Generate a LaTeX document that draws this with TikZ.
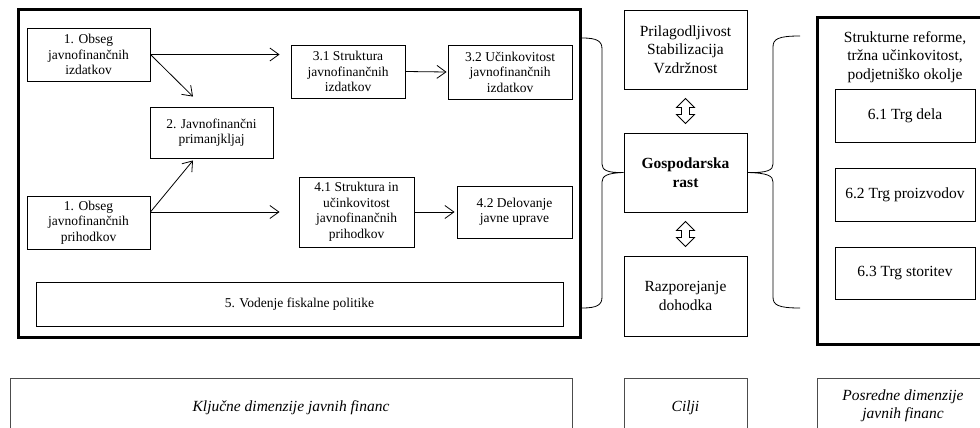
\documentclass[tikz,border=0pt]{standalone}
\usepackage{fontspec}
\setmainfont{Liberation Serif}
\usetikzlibrary{arrows.meta,calc}
\begin{document}
\begin{tikzpicture}[x=1pt,y=-1pt,
  lfont/.style={font=\fontsize{13.5}{15.5}\selectfont},
  rfont/.style={font=\fontsize{15.5}{18.5}\selectfont},
  box/.style={draw, line width=0.9pt, inner sep=0pt, align=center, lfont},
  rbox/.style={draw, line width=0.9pt, inner sep=0pt, align=center, rfont},
  lowbox/.style={draw=black!70, line width=0.9pt, inner sep=0pt, align=center, rfont},
  thickbox/.style={draw, line width=3pt, inner sep=0pt},
  arr/.style={-{Straight Barb[length=9pt,width=13pt]}, line width=0.8pt},
  brace/.style={line width=0.8pt},
  dblarr/.pic={\draw[line width=0.8pt, fill=white] (0,-12.5) -- (9,-3.5) -- (4,-3.5) -- (4,3.5) -- (9,3.5) -- (0,12.5) -- (-9,3.5) -- (-4,3.5) -- (-4,-3.5) -- (-9,-3.5) -- cycle;}
]
\useasboundingbox (0,0) rectangle (980,428);
\clip (0,0) rectangle (980,428);

% main frames
\node[thickbox, minimum width=562, minimum height=327] (big) at (299,173.5) {};
\node[thickbox, minimum width=180, minimum height=326] (right) at (907,181) {};

% left block
\node[box, minimum width=123, minimum height=53] (a1) at (88.5,54.5) {1. Obseg\\javnofinančnih\\izdatkov};
\node[box, minimum width=123, minimum height=51] (d2) at (211.5,132.5) {2. Javnofinančni\\primanjkljaj};
\node[box, minimum width=123, minimum height=53] (a2) at (88.5,222.5) {1. Obseg\\javnofinančnih\\prihodkov};
\node[box, minimum width=114, minimum height=53] (s31) at (348,71.5) {3.1 Struktura\\javnofinančnih\\izdatkov};
\node[box, minimum width=124, minimum height=54] (s32) at (510,72) {3.2 Učinkovitost\\javnofinančnih\\izdatkov};
\node[box, minimum width=115, minimum height=70] (s41) at (356.5,212) {4.1 Struktura in\\učinkovitost\\javnofinančnih\\prihodkov};
\node[box, minimum width=115, minimum height=52] (s42) at (514.5,212) {4.2 Delovanje\\javne uprave};
\node[box, minimum width=527, minimum height=44] (f5) at (299.5,304) {5. Vodenje fiskalne politike};

\coordinate (a2o) at ($(a2.east)+(0,-10.5)$);
\draw[arr] (a1.east) -- ($(s31.west |- a1.east)+(-11,0)$);
\draw[arr] (a1.east) -- ($(d2.north)+(-18.5,-10)$);
\draw[arr] (a2o) -- ($(s41.west |- a2o)+(-19,0)$);
\draw[arr] (a2o) -- ($(d2.south)+(-18.5,2)$);
\draw[arr] (s31.east) -- ($(s32.west)+(-1,0)$);
\draw[arr] (s41.east) -- ($(s42.west)+(-2,0)$);

% middle column
\node[rbox, minimum width=123, minimum height=79] (g1) at (685.5,49.5) {Prilagodljivost\\Stabilizacija\\Vzdržnost};
\node[rbox, minimum width=123, minimum height=79, font=\fontsize{15.5}{18.5}\selectfont\bfseries] (g2) at (685.5,172.5) {Gospodarska\\rast};
\node[rbox, minimum width=123, minimum height=80] (g3) at (685.5,296) {Razporejanje\\dohodka};
\pic (da1) at ($(g1.south)!0.5!(g2.north)$) {dblarr};
\pic (da2) at ($(g2.south)!0.5!(g3.north)$) {dblarr};

% braces
\coordinate (lb1) at (582,38);
\coordinate (lb2) at (582,308);
\coordinate (rb1) at (800,36);
\coordinate (rb2) at (800,308);
\draw[brace] (lb1) .. controls (597,38) and (602,41) .. (602,49) -- (602,164)
  .. controls (602,170) and (607,173) .. (g2.west)
  .. controls (607,173) and (602,176) .. (602,182) -- (602,297)
  .. controls (602,305) and (597,308) .. (lb2);
\draw[brace] (rb1) .. controls (778,36) and (773,39) .. (773,47) -- (773,164)
  .. controls (773,170) and (768,173) .. (g2.east)
  .. controls (768,173) and (773,176) .. (773,182) -- (773,297)
  .. controls (773,305) and (778,308) .. (rb2);

% right block
\node[rfont, align=center, inner sep=0pt] (sr) at (905,57) {Strukturne reforme,\\tržna učinkovitost,\\podjetniško okolje};
\node[rbox, minimum width=140, minimum height=53] (t61) at (905,115.5) {6.1 Trg dela};
\node[rbox, minimum width=140, minimum height=53] (t62) at (905,194.5) {6.2 Trg proizvodov};
\node[rbox, minimum width=140, minimum height=52] (t63) at (905,273) {6.3 Trg storitev};

% bottom labels
\node[lowbox, minimum width=562, minimum height=60, font=\fontsize{15.5}{18.5}\selectfont\itshape] (kd) at (291,408) {Ključne dimenzije javnih financ};
\node[lowbox, minimum width=123, minimum height=60, font=\fontsize{15.5}{18.5}\selectfont\itshape] (ci) at (685.5,408) {Cilji};
\node[lowbox, minimum width=180, minimum height=56, font=\fontsize{15.5}{18.5}\selectfont\itshape] (pd) at (907,406) {};
\node[align=center, inner sep=0pt, font=\fontsize{15.5}{18.5}\selectfont\itshape] (pdt) at (903,406) {Posredne dimenzije\\javnih financ};
\end{tikzpicture}
\end{document}
